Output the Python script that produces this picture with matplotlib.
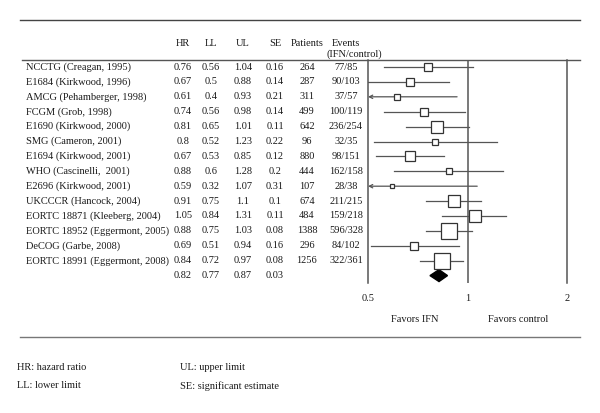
import matplotlib
matplotlib.use("Agg")
import matplotlib.pyplot as plt
from matplotlib.patches import Polygon
from matplotlib.ticker import NullLocator
import numpy as np

studies = ["NCCTG (Creagan, 1995)", "E1684 (Kirkwood, 1996)", "AMCG (Pehamberger, 1998)",
           "FCGM (Grob, 1998)", "E1690 (Kirkwood, 2000)", "SMG (Cameron, 2001)",
           "E1694 (Kirkwood, 2001)", "WHO (Cascinelli,  2001)", "E2696 (Kirkwood, 2001)",
           "UKCCCR (Hancock, 2004)", "EORTC 18871 (Kleeberg, 2004)",
           "EORTC 18952 (Eggermont, 2005)", "DeCOG (Garbe, 2008)",
           "EORTC 18991 (Eggermont, 2008)"]
hr = [0.76, 0.67, 0.61, 0.74, 0.81, 0.8, 0.67, 0.88, 0.59, 0.91, 1.05, 0.88, 0.69, 0.84]
ll = [0.56, 0.5, 0.4, 0.56, 0.65, 0.52, 0.53, 0.6, 0.32, 0.75, 0.84, 0.75, 0.51, 0.72]
ul = [1.04, 0.88, 0.93, 0.98, 1.01, 1.23, 0.85, 1.28, 1.07, 1.1, 1.31, 1.03, 0.94, 0.97]
se = [0.16, 0.14, 0.21, 0.14, 0.11, 0.22, 0.12, 0.2, 0.31, 0.1, 0.11, 0.08, 0.16, 0.08]
patients = [264, 287, 311, 499, 642, 96, 880, 444, 107, 674, 484, 1388, 296, 1256]
events = ["77/85", "90/103", "37/57", "100/119", "236/254", "32/35", "98/151",
          "162/158", "28/38", "211/215", "159/218", "596/328", "84/102", "322/361"]
pooled = [0.82, 0.77, 0.87, 0.03]   # HR, LL, UL, SE

ticks = [0.5, 1, 2]
tick_labels = ["0.5", "1", "2"]

W, H = 600, 413
fig = plt.figure(figsize=(6, 4.13), dpi=100)
plt.rcParams['font.family'] = ['Liberation Serif', 'DejaVu Serif']
fs = 7.5
tc = '#1a1a1a'
lc = '#555555'

def fx(px):
    return px / W

def fy(py):
    return 1 - py / H

def txt(x, y, s, ha='center', **kw):
    fig.text(fx(x), fy(y), s, ha=ha, va='center', fontsize=fs, color=tc, **kw)

# rules
for y0, x0, c in [(20, 20, '#444444'), (60, 22, '#555555'), (337, 20, '#777777')]:
    fig.add_artist(plt.Line2D([fx(x0), fx(580)], [fy(y0), fy(y0)], color=c, lw=1.0))

# header
cols = [183, 211, 243, 275, 307, 346]
for x, h in zip(cols[:4], ["HR", "LL", "UL", "SE"]):
    txt(x, 44, h)
txt(307, 44, "Patients")
txt(346, 44, "Events")
txt(354, 54, "(IFN/control)")

row0, dy = 67, 14.9
for i, name in enumerate(studies):
    y = row0 + dy * i
    txt(26, y, name, ha='left')
    txt(cols[0], y, f"{hr[i]:g}")
    txt(cols[1], y, f"{ll[i]:g}")
    txt(cols[2], y, f"{ul[i]:g}")
    txt(cols[3], y, f"{se[i]:g}")
    txt(cols[4], y, str(patients[i]))
    txt(cols[5], y, events[i])
ys = row0 + dy * len(studies)
for x, v in zip(cols[:4], pooled):
    txt(x, ys, f"{v:g}")

# forest axes
top, bot = 60, 283
ax = fig.add_axes([fx(368), fy(bot), fx(567) - fx(368), (bot - top) / H])
ax.set_xscale('log')
ax.set_xlim(0.5, 2)
ax.set_ylim((bot - row0) / dy, (top - row0) / dy)
ax.patch.set_alpha(0)
for s in ['top', 'bottom']:
    ax.spines[s].set_visible(False)
for s in ['left', 'right']:
    ax.spines[s].set_color(lc)
    ax.spines[s].set_linewidth(1.1)
ax.axvline(1, color=lc, lw=1.1)
ax.set_yticks([])
ax.set_xticks(ticks)
ax.set_xticklabels(tick_labels)
ax.xaxis.set_minor_locator(NullLocator())
ax.tick_params(axis='x', length=0, pad=8, labelsize=fs, labelcolor=tc)

for i in range(len(studies)):
    lo = max(ll[i], 0.5)
    if ll[i] < 0.5:
        ax.annotate('', xy=(0.5, i), xytext=(ul[i], i),
                    arrowprops=dict(arrowstyle='->', color=lc, lw=0.9,
                                    shrinkA=0, shrinkB=0, mutation_scale=6))
    else:
        ax.plot([lo, ul[i]], [i, i], color=lc, lw=0.9)
    side = 1.25 / se[i] * 0.72
    ax.plot(hr[i], i, marker='s', ms=side, mfc='white', mec='#333333', mew=0.9, zorder=3)

n = len(studies)
h = 0.4
diamond = Polygon([(pooled[1], n), (pooled[0], n - h), (pooled[2], n), (pooled[0], n + h)],
                  closed=True, facecolor='black', edgecolor='black')
ax.add_patch(diamond)

txt(415, 319, "Favors IFN")
txt(518, 319, "Favors control")

# footnotes
txt(17, 367, "HR: hazard ratio", ha='left')
txt(17, 386, "LL: lower limit", ha='left')
txt(180, 367, "UL: upper limit", ha='left')
txt(180, 386, "SE: significant estimate", ha='left')

fig.savefig("out.png", dpi=100)
